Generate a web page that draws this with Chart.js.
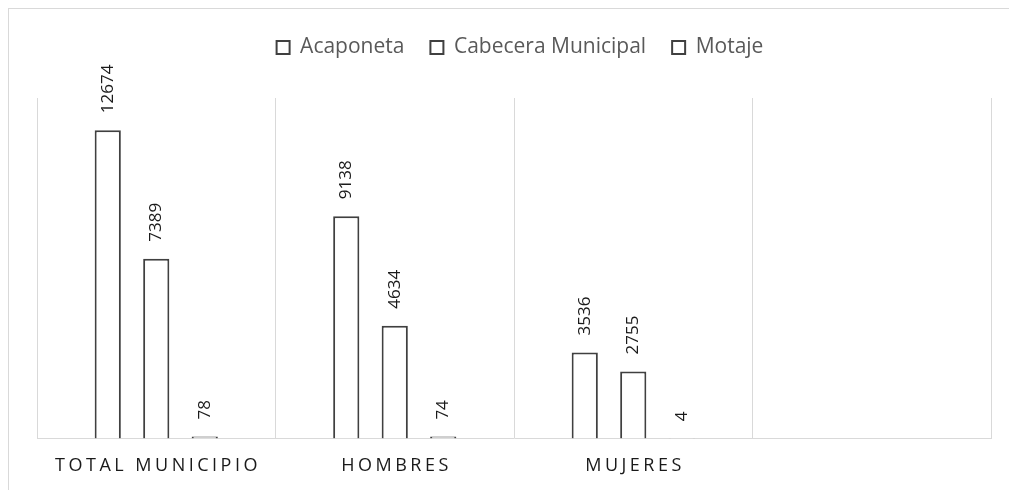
<!DOCTYPE html>
<html><head><meta charset="utf-8">
<script src="https://cdn.jsdelivr.net/npm/chart.js@4/dist/chart.umd.min.js"></script>
<style>html,body{margin:0;padding:0;background:#fff;overflow:hidden}#wrap{width:1009px;height:490px;position:relative}</style>
</head><body><div id="wrap"><canvas id="c"></canvas></div>
<script>
const categories = ["TOTAL MUNICIPIO", "HOMBRES", "MUJERES", ""];
const seriesNames = ["Acaponeta", "Cabecera Municipal", "Motaje"];
const acaponeta = [12674, 9138, 3536, null];
const cabecera = [7389, 4634, 2755, null];
const motaje = [78, 74, 4, null];
const yMax = 14000;

Chart.defaults.font.family = "'Open Sans', sans-serif";

const framePlugin = {
  id: 'frame',
  beforeDraw(chart) {
    const ctx = chart.ctx;
    ctx.save();
    ctx.strokeStyle = '#d9d9d9';
    ctx.lineWidth = 1;
    ctx.strokeRect(8.5, 8.5, 1100, 600);
    ctx.restore();
  }
};

const legendSpace = {
  id: 'legendSpace',
  beforeInit(chart) {
    const lg = chart.legend;
    if (!lg) return;
    const orig = lg.fit;
    lg.fit = function () { orig.call(this); this.height += 30; };
  },
  afterLayout(chart) {
    const lg = chart.legend;
    if (lg) { lg.left += 6; lg.right += 6; }
  }
};

const valueLabels = {
  id: 'valueLabels',
  afterDatasetsDraw(chart) {
    const ctx = chart.ctx;
    ctx.save();
    ctx.font = "17px 'Open Sans', sans-serif";
    ctx.fillStyle = '#1a1a1a';
    ctx.textAlign = 'left';
    ctx.textBaseline = 'middle';
    chart.data.datasets.forEach((ds, di) => {
      const meta = chart.getDatasetMeta(di);
      meta.data.forEach((bar, i) => {
        const v = ds.data[i];
        if (v === null || v === undefined) return;
        ctx.save();
        ctx.translate(bar.x, bar.y - 17);
        ctx.rotate(-Math.PI / 2);
        ctx.fillText(String(v), 0, 0);
        ctx.restore();
      });
    });
    ctx.restore();
  }
};

const xLabels = {
  id: 'xLabels',
  afterDraw(chart) {
    const sc = chart.scales.x;
    const ctx = chart.ctx;
    ctx.save();
    ctx.font = "18px 'Open Sans', sans-serif";
    ctx.fillStyle = '#1a1a1a';
    ctx.textAlign = 'center';
    ctx.textBaseline = 'middle';
    try { ctx.letterSpacing = '3.5px'; } catch (e) {}
    categories.forEach((c, i) => {
      const x = sc.getPixelForTick(i);
      ctx.fillText(c, x + 1.75, 466);
    });
    ctx.restore();
  }
};

new Chart(document.getElementById('c'), {
  type: 'bar',
  data: {
    labels: categories,
    datasets: [
      { label: seriesNames[0], data: acaponeta },
      { label: seriesNames[1], data: cabecera },
      { label: seriesNames[2], data: motaje }
    ].map(d => Object.assign(d, {
      backgroundColor: '#ffffff',
      borderColor: '#404040',
      borderWidth: 2,
      categoryPercentage: 0.61,
      barPercentage: 0.54
    }))
  },
  options: {
    responsive: true,
    maintainAspectRatio: false,
    animation: false,
    layout: { padding: { left: 37, right: 18, top: 11, bottom: 22 } },
    plugins: {
      legend: {
        position: 'top',
        labels: {
          boxWidth: 13,
          boxHeight: 13,
          padding: 26,
          color: '#595959',
          font: { size: 21 }
        }
      },
      tooltip: { enabled: false }
    },
    scales: {
      x: {
        grid: { color: '#d9d9d9', lineWidth: 1, drawTicks: false, offset: true },
        border: { color: '#d9d9d9', width: 1 },
        ticks: { color: 'rgba(0,0,0,0)', font: { size: 18 }, padding: 4 }
      },
      y: {
        display: false,
        min: 0,
        max: yMax
      }
    }
  },
  plugins: [framePlugin, legendSpace, valueLabels, xLabels]
});
</script></body></html>
